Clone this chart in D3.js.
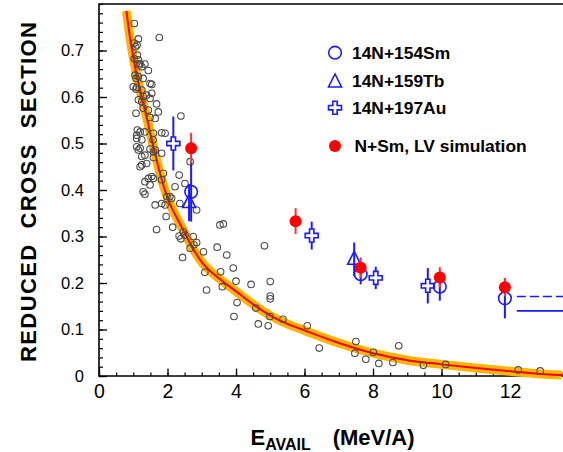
<!DOCTYPE html>
<html><head><meta charset="utf-8">
<script src="https://cdn.jsdelivr.net/npm/d3@7"></script>
<style>body{margin:0;background:#fff}svg{display:block}</style>
</head><body><svg id="c" width="563" height="452"></svg>
<script>
// ---- data ----
const greyX=[1.03,1.76,1.15,1.03,1.07,1.11,1.12,1.15,1.20,1.25,1.18,1.05,1.08,1.15,1.44,1.49,1.54,1.00,1.10,1.08,
1.25,1.29,1.15,1.25,1.68,1.39,1.49,1.54,1.29,1.44,1.73,1.08,1.49,1.64,1.12,1.20,1.10,1.34,1.59,1.83,
1.93,1.10,1.25,1.20,1.15,1.10,1.49,1.64,1.25,1.34,1.59,1.83,1.39,1.25,1.20,1.59,1.34,1.29,2.39,1.58,
2.66,1.88,2.34,1.03,1.34,1.44,1.54,1.59,1.49,1.29,1.34,1.83,2.22,2.51,1.64,1.83,1.93,1.98,2.07,2.12,
2.36,2.85,1.96,1.68,2.15,2.46,2.34,2.39,2.51,2.75,2.85,2.77,2.66,2.44,3.05,3.45,3.53,3.63,3.73,3.09,
3.55,3.92,3.14,3.60,4.00,4.44,4.83,5.00,5.00,5.00,4.03,4.58,4.99,3.94,4.65,4.94,5.37,6.08,6.43,7.50,
7.47,7.79,8.01,8.17,8.58,8.75,9.47,10.12,12.24,12.88];
const greyY=[0.758,0.728,0.725,0.716,0.708,0.712,0.690,0.680,0.672,0.665,0.669,0.647,0.640,0.644,0.657,0.629,0.627,0.622,0.621,0.617,
0.615,0.601,0.594,0.590,0.585,0.604,0.597,0.608,0.576,0.572,0.568,0.565,0.556,0.554,0.529,0.525,0.518,0.525,0.522,0.523,
0.522,0.511,0.508,0.490,0.486,0.493,0.488,0.486,0.472,0.475,0.482,0.479,0.457,0.454,0.450,0.470,0.671,0.640,0.559,0.508,
0.461,0.436,0.432,0.682,0.418,0.425,0.429,0.425,0.411,0.396,0.391,0.422,0.407,0.414,0.368,0.371,0.368,0.386,0.386,0.382,
0.371,0.357,0.343,0.315,0.320,0.310,0.301,0.295,0.303,0.300,0.287,0.282,0.275,0.255,0.267,0.277,0.325,0.327,0.260,0.223,
0.224,0.232,0.185,0.192,0.204,0.197,0.280,0.203,0.172,0.166,0.158,0.146,0.128,0.128,0.112,0.108,0.122,0.108,0.060,0.074,
0.049,0.036,0.051,0.027,0.029,0.065,0.023,0.025,0.013,0.011];

const curveX=[0.8,0.9,1.0,1.2,1.4,1.6,1.8,2.0,2.25,2.5,2.75,3.0,3.5,4.0,4.5,5.0,5.5,6.0,7.0,8.0,9.0,10.0,11.0,12.0,13.0,13.5];
const curveY=[0.785,0.73,0.685,0.615,0.553,0.49,0.43,0.383,0.343,0.308,0.273,0.245,0.21,0.182,0.154,0.13,0.112,0.098,0.071,0.049,0.034,0.025,0.017,0.010,0.004,0.002];

const smX=[2.69,7.64,9.95,11.85], smY=[0.396,0.219,0.192,0.167], smErr=[0.064,0.022,0.030,0.043];
const tbX=[2.63,7.45], tbY=[0.373,0.251], tbErr=[0.040,0.036];
const auX=[2.17,6.21,8.08,9.60], auY=[0.500,0.302,0.211,0.194], auErr=[0.058,0.030,0.024,0.038];
const lvX=[2.69,5.74,7.64,9.95,11.85], lvY=[0.490,0.333,0.233,0.212,0.191], lvErr=[0.033,0.028,0.022,0.022,0.020];

const limitX=[12.2,13.9], dashedLimitY=0.171, solidLimitY=0.140;

const xTicks=[0,2,4,6,8,10,12];
const yTicks=[0,0.1,0.2,0.3,0.4,0.5,0.6,0.7];
const legendLabels=["14N+154Sm","14N+159Tb","14N+197Au","N+Sm, LV simulation"];
const yTitle="REDUCED  CROSS  SECTION";

// ---- drawing ----
const svg=d3.select("#c");
svg.append("rect").attr("width",563).attr("height",452).attr("fill","#fff");
const x=d3.scaleLinear().domain([0,13.5]).range([99,561.4]);
const y=d3.scaleLinear().domain([0,0.8]).range([376,4]);
const BLUE="#1a1aff", RED="#ff0000";
const font="'Liberation Sans', Arial, Helvetica, sans-serif";

// minor ticks
const xMinor=d3.range(0,13.51,0.5), yMinor=d3.range(0,0.801,0.02);
svg.append("g").attr("transform","translate(0,376)")
  .call(d3.axisBottom(x).tickValues(xMinor).tickSize(-3.5).tickSizeOuter(0).tickFormat(""))
  .call(g=>g.select(".domain").remove()).selectAll("line").attr("stroke","#000").attr("stroke-width",1.2);
svg.append("g").attr("transform","translate(99,0)")
  .call(d3.axisLeft(y).tickValues(yMinor).tickSize(-4).tickSizeOuter(0).tickFormat(""))
  .call(g=>g.select(".domain").remove()).selectAll("line").attr("stroke","#000").attr("stroke-width",1.2);

// major ticks + labels
const gx=svg.append("g").attr("transform","translate(0,376)")
  .call(d3.axisBottom(x).tickValues(xTicks).tickSize(-7.5).tickSizeOuter(0).tickPadding(8.5).tickFormat(d3.format("d")));
gx.select(".domain").remove();
gx.selectAll("line").attr("stroke","#000").attr("stroke-width",1.3);
gx.selectAll("text").attr("font-family",font).attr("font-size",19.5).attr("fill","#000");
const gy=svg.append("g").attr("transform","translate(99,0)")
  .call(d3.axisLeft(y).tickValues(yTicks).tickSize(-8).tickSizeOuter(0).tickPadding(15)
    .tickFormat(d=>d===0?"0":d3.format(".1f")(d)));
gy.select(".domain").remove();
gy.selectAll("line").attr("stroke","#000").attr("stroke-width",1.3);
gy.selectAll("text").attr("font-family",font).attr("font-size",16.5).attr("fill","#000");

// frame
svg.append("path").attr("d",`M${x(13.9)},${y(0.8)}H99V376H${x(13.9)}`)
  .attr("fill","none").attr("stroke","#000").attr("stroke-width",1.6);

// fit curve
const pts=curveX.map((v,i)=>[v,curveY[i]]);
const line=d3.line().x(d=>x(d[0])).y(d=>y(d[1])).curve(d3.curveMonotoneX);
svg.append("path").attr("d",line(pts)).attr("fill","none").attr("stroke","#ffb400").attr("stroke-width",9);
svg.append("path").attr("d",line(pts)).attr("fill","none").attr("stroke",RED).attr("stroke-width",2);

// grey systematics
svg.append("g").selectAll("circle").data(greyX.map((v,i)=>[v,greyY[i]])).join("circle")
  .attr("cx",d=>x(d[0])).attr("cy",d=>y(d[1])).attr("r",3.3)
  .attr("fill","none").attr("stroke","#4d4d4d").attr("stroke-width",1.1);

// limits on right
svg.append("line").attr("x1",x(limitX[0])).attr("x2",x(limitX[1])).attr("y1",y(dashedLimitY)).attr("y2",y(dashedLimitY))
  .attr("stroke",BLUE).attr("stroke-width",1.6).attr("stroke-dasharray","9,4");
svg.append("line").attr("x1",x(limitX[0])).attr("x2",x(limitX[1])).attr("y1",y(solidLimitY)).attr("y2",y(solidLimitY))
  .attr("stroke",BLUE).attr("stroke-width",1.6);

function errBars(X,Y,E,col){
  svg.append("g").selectAll("line").data(X.map((v,i)=>[v,Y[i],E[i]])).join("line")
    .attr("x1",d=>x(d[0])).attr("x2",d=>x(d[0])).attr("y1",d=>y(d[1]+d[2])).attr("y2",d=>y(d[1]-d[2]))
    .attr("stroke",col).attr("stroke-width",2);
}
const triPath="M0,-8L6.5,5L-6.5,5Z";
const crossPath=d3.symbol(d3.symbolCross,94)();

errBars(tbX,tbY,tbErr,BLUE);
errBars(auX,auY,auErr,BLUE);
errBars(smX,smY,smErr,BLUE);
svg.append("g").selectAll("path").data(tbX.map((v,i)=>[v,tbY[i]])).join("path")
  .attr("d",triPath).attr("transform",d=>`translate(${x(d[0])},${y(d[1])})`)
  .attr("fill","none").attr("stroke",BLUE).attr("stroke-width",1.6);
svg.append("g").selectAll("path").data(auX.map((v,i)=>[v,auY[i]])).join("path")
  .attr("d",crossPath).attr("transform",d=>`translate(${x(d[0])},${y(d[1])})`)
  .attr("fill","#fff").attr("stroke",BLUE).attr("stroke-width",1.6);
svg.append("g").selectAll("circle").data(smX.map((v,i)=>[v,smY[i]])).join("circle")
  .attr("cx",d=>x(d[0])).attr("cy",d=>y(d[1])).attr("r",6.3)
  .attr("fill","none").attr("stroke",BLUE).attr("stroke-width",1.6);
errBars(lvX,lvY,lvErr,"#ff3030");
svg.append("g").selectAll("circle").data(lvX.map((v,i)=>[v,lvY[i]])).join("circle")
  .attr("cx",d=>x(d[0])).attr("cy",d=>y(d[1])).attr("r",6).attr("fill",RED);

// legend
const lg=svg.append("g");
const ly=[52.7,81,107.7,146];
lg.append("circle").attr("cx",335).attr("cy",ly[0]).attr("r",6.3).attr("fill","none").attr("stroke",BLUE).attr("stroke-width",1.6);
lg.append("path").attr("d",triPath).attr("transform",`translate(335,${ly[1]+1})`).attr("fill","none").attr("stroke",BLUE).attr("stroke-width",1.6);
lg.append("path").attr("d",crossPath).attr("transform",`translate(335,${ly[2]})`).attr("fill","#fff").attr("stroke",BLUE).attr("stroke-width",1.6);
lg.append("circle").attr("cx",335).attr("cy",ly[3]).attr("r",6).attr("fill",RED);
legendLabels.forEach((t,i)=>{
  lg.append("text").attr("x",i<3?352:354.5).attr("y",ly[i]+6).text(t)
    .attr("font-family",font).attr("font-weight","bold").attr("font-size",17.4).attr("fill","#000");
});

// axis titles
svg.append("text").attr("transform","translate(35.5,192) rotate(-90)").attr("text-anchor","middle")
  .attr("font-family",font).attr("font-weight","bold").attr("font-size",22)
  .attr("textLength",340).attr("lengthAdjust","spacing").style("white-space","pre").text(yTitle);
const xt=svg.append("text").attr("x",250.5).attr("y",445).attr("font-family",font).attr("font-weight","bold").attr("font-size",22);
xt.append("tspan").text("E");
xt.append("tspan").attr("font-size",16).attr("dy",5).text("AVAIL");
xt.append("tspan").attr("x",332.7).attr("dy",-5).text("(MeV/A)");
</script></body></html>
